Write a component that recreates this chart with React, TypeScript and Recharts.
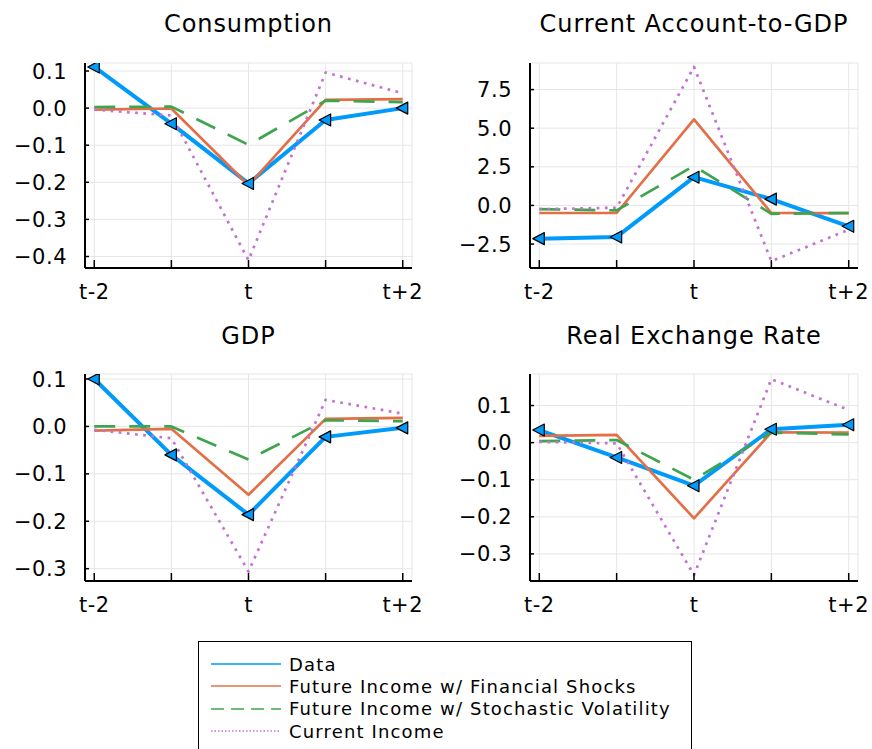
import { LineChart, Line, XAxis, YAxis, CartesianGrid } from "recharts";

const periods = [-2, -1, 0, 1, 2];
const periodLabels = ["t-2", "", "t", "", "t+2"];

const seriesNames = [
  "Data",
  "Future Income w/ Financial Shocks",
  "Future Income w/ Stochastic Volatility",
  "Current Income",
];

// Consumption
const consData = [0.111, -0.042, -0.203, -0.032, 0.0];
const consFin = [-0.004, -0.001, -0.208, 0.022, 0.024];
const consVol = [0.003, 0.004, -0.099, 0.02, 0.016];
const consCur = [-0.004, -0.02, -0.41, 0.096, 0.04];
const consTicks = [0.1, 0, -0.1, -0.2, -0.3, -0.4];

// Current Account-to-GDP
const caData = [-2.15, -2.04, 1.83, 0.41, -1.35];
const caFin = [-0.49, -0.49, 5.57, -0.49, -0.5];
const caVol = [-0.24, -0.32, 2.56, -0.54, -0.49];
const caCur = [-0.24, -0.15, 8.97, -3.61, -1.57];
const caTicks = [7.5, 5, 2.5, 0, -2.5];

// GDP
const gdpData = [0.1, -0.06, -0.186, -0.022, -0.003];
const gdpFin = [-0.009, -0.005, -0.144, 0.016, 0.018];
const gdpVol = [0.0, 0.0, -0.07, 0.013, 0.011];
const gdpCur = [-0.007, -0.025, -0.306, 0.056, 0.027];
const gdpTicks = [0.1, 0, -0.1, -0.2, -0.3];

// Real Exchange Rate
const rerData = [0.034, -0.04, -0.116, 0.036, 0.048];
const rerFin = [0.018, 0.021, -0.204, 0.028, 0.027];
const rerVol = [0.004, 0.007, -0.1, 0.027, 0.022];
const rerCur = [0.002, -0.002, -0.357, 0.171, 0.088];
const rerTicks = [0.1, 0, -0.1, -0.2, -0.3];

const FONT = "'DejaVu Sans', sans-serif";

const styles = [
  { key: "data", color: "#009AFA", width: 4, dash: undefined, legendDash: undefined },
  { key: "fin", color: "#E36F47", width: 2.7, dash: undefined, legendDash: undefined },
  { key: "vol", color: "#3EA44E", width: 2.7, dash: "21 14", legendDash: "13 7" },
  { key: "cur", color: "#C371D2", width: 2.7, dash: "2.7 5.5", legendDash: "1.5 2" },
];

const panels = [
  {
    title: "Consumption",
    values: [consData, consFin, consVol, consCur],
    ticks: consTicks,
    domain: [-0.431, 0.1216],
    left: 0, top: 0, yw: 85, plotTop: 63, plotBottom: 268, right: 24,
  },
  {
    title: "Current Account-to-GDP",
    values: [caData, caFin, caVol, caCur],
    ticks: caTicks,
    domain: [-4.05, 9.22],
    left: 436, top: 0, yw: 94, plotTop: 63, plotBottom: 268, right: 14,
  },
  {
    title: "GDP",
    values: [gdpData, gdpFin, gdpVol, gdpCur],
    ticks: gdpTicks,
    domain: [-0.326, 0.1106],
    left: 0, top: 312, yw: 85, plotTop: 374, plotBottom: 581, right: 24,
  },
  {
    title: "Real Exchange Rate",
    values: [rerData, rerFin, rerVol, rerCur],
    ticks: rerTicks,
    domain: [-0.373, 0.185],
    left: 436, top: 312, yw: 94, plotTop: 374, plotBottom: 581, right: 14,
  },
];

const fmt = (v: number) => (v < 0 ? "\u2212" : "") + Math.abs(v).toFixed(1);

const XTick = (props: any) => {
  const { x, y, payload } = props;
  const i = periods.indexOf(payload.value);
  return (
    <g>
      <line x1={x} x2={x} y1={y} y2={y - 8} stroke="#000" strokeWidth={1.5} />
      <text x={x} y={y + 31} textAnchor="middle" fontSize={21} fontFamily={FONT} fill="#000" letterSpacing={0.5}>
        {periodLabels[i]}
      </text>
    </g>
  );
};

const YTick = (props: any) => {
  const { x, y, payload } = props;
  return (
    <g>
      <line x1={x} x2={x + 4} y1={y} y2={y} stroke="#000" strokeWidth={1.5} />
      <text x={x - 18} y={y} dy="0.36em" textAnchor="end" fontSize={21} fontFamily={FONT} fill="#000" letterSpacing={0.5}>
        {fmt(payload.value)}
      </text>
    </g>
  );
};

const Triangle = (props: any) => {
  const { cx, cy, index } = props;
  if (cx == null || cy == null) return <g key={index} />;
  return (
    <path
      key={index}
      d={`M${cx - 6.5},${cy} L${cx + 5},${cy - 6} L${cx + 5},${cy + 6} Z`}
      fill="#009AFA"
      stroke="#000"
      strokeWidth={1.2}
      strokeLinejoin="round"
    />
  );
};

function Panel({ p }: { p: (typeof panels)[number] }) {
  const xh = 44;
  const height = p.plotBottom - p.top + xh;
  const width = 436;
  const rows = periods.map((t, i) => {
    const row: Record<string, number> = { t };
    styles.forEach((s, k) => (row[s.key] = p.values[k][i]));
    return row;
  });
  const plotLeft = p.left + p.yw;
  const plotRight = p.left + width - p.right;
  return (
    <>
      <div
        style={{
          position: "absolute",
          left: plotLeft - 40,
          width: plotRight - plotLeft + 80,
          top: p.top + 8,
          textAlign: "center",
          fontFamily: FONT,
          fontSize: 24,
          letterSpacing: 0.9,
          lineHeight: "32px",
          whiteSpace: "nowrap",
        }}
      >
        {p.title}
      </div>
      <div style={{ position: "absolute", left: p.left, top: p.top }}>
        <LineChart
          width={width}
          height={height}
          data={rows}
          margin={{ top: p.plotTop - p.top, right: p.right, bottom: 0, left: 0 }}
        >
          <CartesianGrid stroke="#e6e6e6" strokeWidth={1} />
          <XAxis
            dataKey="t"
            type="number"
            domain={[-2.12, 2.12]}
            ticks={periods}
            interval={0}
            height={xh}
            tickSize={0}
            tickMargin={0}
            tickLine={false}
            axisLine={{ stroke: "#000", strokeWidth: 2 }}
            tick={<XTick />}
            allowDataOverflow
          />
          <YAxis
            type="number"
            domain={p.domain}
            ticks={p.ticks}
            interval={0}
            width={p.yw}
            tickSize={0}
            tickMargin={0}
            tickLine={false}
            axisLine={{ stroke: "#000", strokeWidth: 2 }}
            tick={<YTick />}
            allowDataOverflow
          />
          {styles.map((s) => (
            <Line
              key={s.key}
              type="linear"
              dataKey={s.key}
              stroke={s.color}
              strokeWidth={s.width}
              strokeDasharray={s.dash}
              strokeLinejoin="round"
              dot={s.key === "data" ? Triangle : false}
              activeDot={false}
              isAnimationActive={false}
            />
          ))}
        </LineChart>
      </div>
    </>
  );
}

export default function App() {
  return (
    <div
      style={{
        position: "absolute",
        left: 0,
        top: 0,
        width: 872,
        height: 749,
        overflow: "hidden",
        background: "#fff",
      }}
    >
      {panels.map((p) => (
        <Panel key={p.title} p={p} />
      ))}
      <div
        style={{
          position: "absolute",
          left: 198,
          top: 641,
          width: 494,
          height: 140,
          border: "1.5px solid #000",
          boxSizing: "border-box",
          fontFamily: FONT,
        }}
      >
        {styles.map((s, i) => (
          <div
            key={s.key}
            style={{
              position: "absolute",
              left: 0,
              top: 11 + i * 22.4,
              height: 22,
              display: "flex",
              alignItems: "center",
              whiteSpace: "nowrap",
            }}
          >
            <svg width={90} height={22}>
              <line x1={12} x2={82} y1={11} y2={11} stroke={s.color} strokeWidth={1.6} strokeDasharray={s.legendDash} />
            </svg>
            <span style={{ fontSize: 18, letterSpacing: 1.15, color: "#000" }}>{seriesNames[i]}</span>
          </div>
        ))}
      </div>
    </div>
  );
}
